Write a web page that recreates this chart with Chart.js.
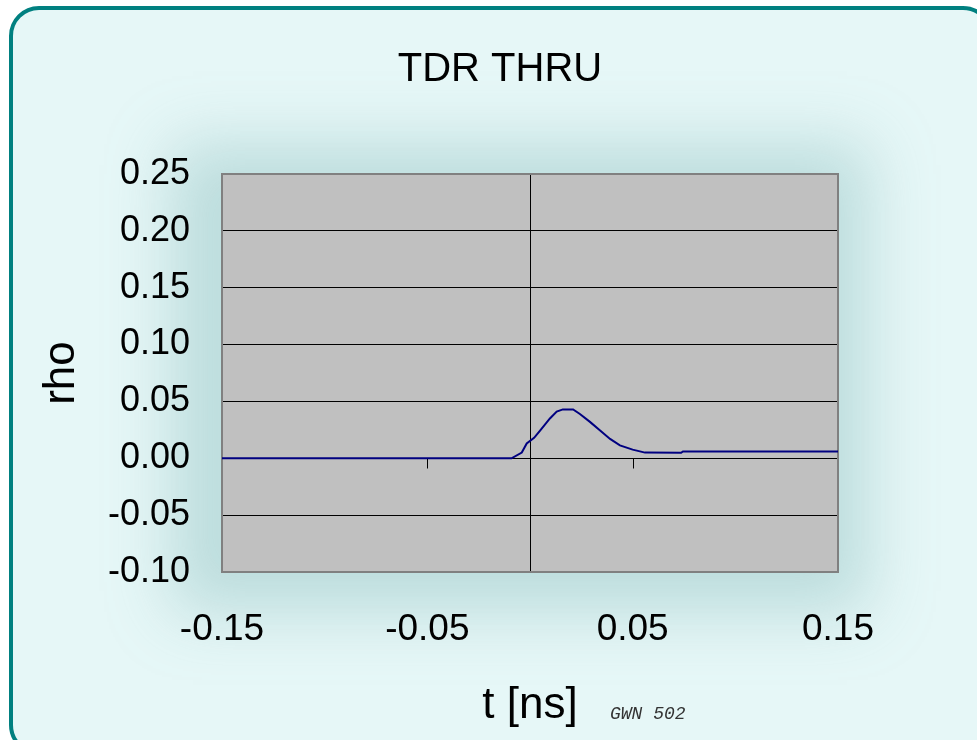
<!DOCTYPE html>
<html>
<head>
<meta charset="utf-8">
<script src="https://cdn.jsdelivr.net/npm/chart.js@4/dist/chart.umd.min.js"></script>
<style>
  body { margin: 0; background: #ffffff; }
  #wrap { width: 977px; height: 740px; }
</style>
</head>
<body>
<div id="wrap"><canvas id="chart-1" width="977" height="740"></canvas></div>
<script>
// TDR thru response
const tNs = [-0.15, -0.05, -0.009, -0.004, -0.0016, 0.002, 0.005, 0.0097, 0.013, 0.016,
  0.021, 0.0243, 0.0292, 0.034, 0.039, 0.0438, 0.050, 0.056, 0.0736, 0.0745, 0.15];
const rho = [0, 0, 0, 0.005, 0.013, 0.018, 0.0246, 0.035, 0.041, 0.043,
  0.043, 0.039, 0.032, 0.0246, 0.017, 0.0114, 0.0076, 0.005, 0.0048, 0.006, 0.006];
const xTicks = [-0.15, -0.05, 0.05, 0.15];
const yTicks = [-0.10, -0.05, 0.00, 0.05, 0.10, 0.15, 0.20, 0.25];

const FONT = '"Liberation Sans", Arial, sans-serif';

function fmt(v) {
  if (Math.abs(v) < 1e-9) v = 0;
  return v.toFixed(2);
}

function roundRect(ctx, x, y, w, h, r) {
  ctx.beginPath();
  ctx.moveTo(x + r, y);
  ctx.lineTo(x + w - r, y);
  ctx.arcTo(x + w, y, x + w, y + r, r);
  ctx.lineTo(x + w, y + h - r);
  ctx.arcTo(x + w, y + h, x + w - r, y + h, r);
  ctx.lineTo(x + r, y + h);
  ctx.arcTo(x, y + h, x, y + h - r, r);
  ctx.lineTo(x, y + r);
  ctx.arcTo(x, y, x + r, y, r);
  ctx.closePath();
}

// slide background, plot box, zero axis and its ticks
const frame = {
  id: 'frame',
  beforeDraw(chart) {
    const { ctx, chartArea: a } = chart;
    ctx.save();
    ctx.fillStyle = '#ffffff';
    ctx.fillRect(0, 0, chart.width, chart.height);
    roundRect(ctx, 11, 8, 980, 745, 28);
    ctx.fillStyle = '#e6f7f7';
    ctx.fill();
    ctx.clip();
    // soft teal glow around the plot
    ctx.shadowColor = 'rgba(120,180,180,0.38)';
    ctx.shadowBlur = 60;
    ctx.shadowOffsetX = 2000;
    ctx.fillStyle = '#000';
    ctx.fillRect(a.left - 50 - 2000, a.top - 30, a.width + 80, a.height + 70);
    ctx.restore();

    ctx.save();
    roundRect(ctx, 11, 8, 980, 745, 28);
    ctx.lineWidth = 4;
    ctx.strokeStyle = '#008080';
    ctx.stroke();
    ctx.fillStyle = '#c0c0c0';
    ctx.fillRect(a.left, a.top, a.width, a.height);
    ctx.restore();
  },
  beforeDatasetsDraw(chart) {
    const { ctx, chartArea: a, scales: { x, y } } = chart;
    ctx.save();
    ctx.strokeStyle = '#000';
    ctx.lineWidth = 1;
    const x0 = Math.round(x.getPixelForValue(0)) + 0.5;
    ctx.beginPath();
    ctx.moveTo(x0, a.top);
    ctx.lineTo(x0, a.bottom);
    const y0 = Math.round(y.getPixelForValue(0)) + 0.5;
    xTicks.forEach(t => {
      const px = Math.round(x.getPixelForValue(t)) + 0.5;
      ctx.moveTo(px, y0);
      ctx.lineTo(px, y0 + 10);
    });
    ctx.stroke();
    ctx.strokeStyle = '#808080';
    ctx.lineWidth = 2;
    ctx.strokeRect(a.left, a.top, a.width, a.height);
    ctx.restore();
  },
  afterDraw(chart) {
    const { ctx } = chart;
    ctx.save();
    ctx.fillStyle = '#333';
    ctx.font = 'italic 18px "Liberation Mono", monospace';
    ctx.textBaseline = 'middle';
    ctx.fillText('GWN 502', 610, 714);
    ctx.restore();
  }
};

const chart = new Chart(document.getElementById('chart-1'), {
  type: 'line',
  data: {
    datasets: [{
      data: tNs.map((t, i) => ({ x: t, y: rho[i] })),
      borderColor: '#000080',
      borderWidth: 2,
      pointRadius: 0,
      tension: 0,
      fill: false
    }]
  },
  options: {
    responsive: false,
    animation: false,
    layout: { padding: { left: 23, right: 0, top: 0, bottom: 0 } },
    plugins: {
      legend: { display: false },
      tooltip: { enabled: false },
      title: {
        display: true,
        text: 'TDR THRU',
        color: '#000',
        font: { family: FONT, size: 40, weight: 'normal' },
        padding: { top: 46, bottom: 80 }
      }
    },
    scales: {
      x: {
        type: 'linear',
        min: -0.15,
        max: 0.15,
        afterBuildTicks: (s) => { s.ticks = xTicks.map(v => ({ value: v })); },
        afterFit: (s) => { s.height = 168; },
        grid: { display: false, drawTicks: false },
        border: { display: false },
        ticks: {
          color: '#000',
          padding: 36,
          maxRotation: 0,
          autoSkip: false,
          font: { family: FONT, size: 37 },
          callback: (v) => fmt(v)
        },
        title: {
          display: true,
          text: 't [ns]',
          color: '#000',
          font: { family: FONT, size: 44 },
          padding: { top: 0, bottom: 8 }
        }
      },
      y: {
        type: 'linear',
        min: -0.10,
        max: 0.25,
        afterBuildTicks: (s) => { s.ticks = yTicks.map(v => ({ value: v })); },
        afterFit: (s) => { s.width = 199; },
        grid: { color: '#000', lineWidth: 1, drawTicks: false },
        border: { display: false },
        ticks: {
          color: '#000',
          padding: 32,
          autoSkip: false,
          font: { family: FONT, size: 36 },
          callback: (v) => fmt(v)
        },
        title: {
          display: true,
          text: 'rho',
          color: '#000',
          font: { family: FONT, size: 44 },
          padding: { top: 12, bottom: 0 }
        }
      },
      // empty right margin so the title centres over the whole slide
      yRight: {
        type: 'linear',
        position: 'right',
        min: -0.10,
        max: 0.25,
        afterFit: (s) => { s.width = 139; },
        grid: { display: false, drawTicks: false },
        border: { display: false },
        ticks: { display: false }
      }
    }
  },
  plugins: [frame]
});
</script>
</body>
</html>
